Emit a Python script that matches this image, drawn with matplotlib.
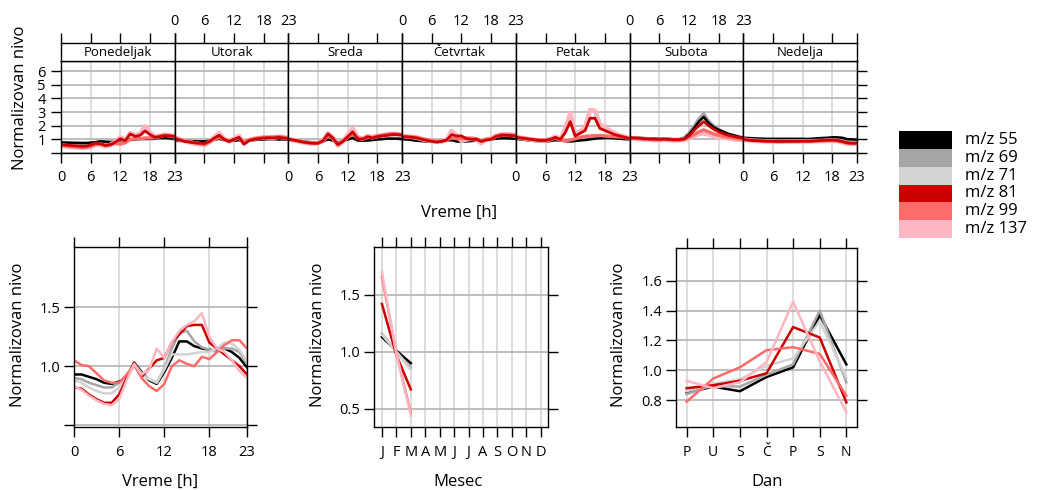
import matplotlib
matplotlib.use("Agg")
import matplotlib.pyplot as plt

plt.rcParams["font.family"] = ["Open Sans", "DejaVu Sans"]
plt.rcParams["axes.linewidth"] = 1.0
plt.rcParams["xtick.major.width"] = 1.0
plt.rcParams["ytick.major.width"] = 1.0

series = ["m/z 55", "m/z 69", "m/z 71", "m/z 81", "m/z 99", "m/z 137"]
colors = ["#000000", "#a6a6a6", "#d3d3d3", "#cc0000", "#ff6a6a", "#ffb6c1"]

days = ["Ponedeljak", "Utorak", "Sreda", "Četvrtak", "Petak", "Subota", "Nedelja"]
hours = list(range(24))

# hourly profile per day of week (one list of 7 days per series)
week_55 = [
    [0.78, 0.77, 0.76, 0.75, 0.74, 0.74, 0.76, 0.80, 0.85, 0.82, 0.80, 0.85, 0.95, 0.95, 1.00, 1.02, 1.05, 1.05, 1.05, 1.08, 1.10, 1.10, 1.08, 1.05],
    [0.95, 0.93, 0.90, 0.88, 0.86, 0.85, 0.85, 0.90, 0.98, 1.05, 0.95, 0.88, 0.90, 0.95, 0.82, 0.90, 0.95, 0.98, 1.00, 1.02, 1.02, 1.00, 1.00, 1.00],
    [0.98, 0.95, 0.90, 0.85, 0.80, 0.78, 0.78, 0.85, 1.00, 0.92, 0.75, 0.85, 1.00, 1.10, 0.92, 0.90, 0.92, 0.95, 1.00, 1.02, 1.05, 1.05, 1.05, 1.02],
    [1.02, 1.00, 0.95, 0.90, 0.88, 0.85, 0.83, 0.82, 0.85, 0.90, 0.95, 0.85, 0.82, 0.85, 0.88, 0.90, 0.90, 0.95, 1.00, 1.05, 1.08, 1.08, 1.06, 1.05],
    [1.05, 1.00, 0.95, 0.92, 0.88, 0.86, 0.85, 0.88, 0.95, 0.90, 0.88, 0.85, 0.88, 0.92, 0.95, 1.00, 1.05, 1.08, 1.10, 1.10, 1.08, 1.05, 1.02, 1.00],
    [1.15, 1.12, 1.10, 1.08, 1.05, 1.05, 1.03, 1.05, 1.02, 1.00, 1.00, 1.05, 1.35, 1.80, 2.30, 2.65, 2.20, 1.90, 1.70, 1.55, 1.40, 1.30, 1.20, 1.12],
    [1.12, 1.10, 1.08, 1.06, 1.05, 1.04, 1.04, 1.04, 1.04, 1.04, 1.04, 1.04, 1.04, 1.03, 1.05, 1.08, 1.10, 1.12, 1.15, 1.15, 1.12, 1.02, 1.00, 0.98],
]
week_69 = [
    [0.70, 0.68, 0.66, 0.65, 0.64, 0.64, 0.68, 0.75, 0.85, 0.82, 0.80, 0.82, 0.90, 0.92, 0.98, 1.00, 1.02, 1.03, 1.03, 1.05, 1.08, 1.08, 1.05, 1.02],
    [0.92, 0.90, 0.88, 0.86, 0.84, 0.83, 0.84, 0.90, 1.00, 1.08, 0.95, 0.88, 0.92, 1.00, 0.85, 0.92, 0.98, 1.00, 1.02, 1.05, 1.05, 1.02, 1.02, 1.00],
    [0.95, 0.92, 0.88, 0.82, 0.78, 0.76, 0.76, 0.85, 1.05, 0.95, 0.75, 0.88, 1.05, 1.20, 0.98, 0.92, 0.95, 1.00, 1.02, 1.05, 1.08, 1.08, 1.06, 1.04],
    [1.05, 1.02, 0.98, 0.92, 0.90, 0.87, 0.85, 0.85, 0.88, 0.92, 1.00, 0.90, 0.86, 0.90, 0.92, 0.92, 0.92, 0.98, 1.02, 1.08, 1.10, 1.10, 1.08, 1.06],
    [1.08, 1.02, 0.98, 0.95, 0.90, 0.88, 0.88, 0.92, 1.02, 0.95, 0.90, 0.88, 0.92, 1.00, 1.05, 1.10, 1.15, 1.18, 1.18, 1.15, 1.12, 1.10, 1.06, 1.02],
    [1.15, 1.12, 1.10, 1.08, 1.05, 1.05, 1.03, 1.05, 1.02, 1.00, 1.00, 1.10, 1.45, 1.95, 2.50, 2.90, 2.35, 2.00, 1.75, 1.55, 1.40, 1.30, 1.20, 1.12],
    [1.08, 1.05, 1.02, 1.00, 0.98, 0.97, 0.96, 0.96, 0.96, 0.96, 0.97, 0.97, 0.97, 0.97, 0.98, 1.00, 1.02, 1.04, 1.06, 1.05, 1.02, 0.95, 0.92, 0.90],
]
week_71 = [
    [0.68, 0.66, 0.64, 0.63, 0.62, 0.62, 0.66, 0.72, 0.82, 0.80, 0.78, 0.82, 0.90, 0.92, 0.98, 1.00, 1.02, 1.05, 1.05, 1.08, 1.10, 1.12, 1.10, 1.05],
    [0.92, 0.90, 0.88, 0.86, 0.84, 0.83, 0.85, 0.92, 1.02, 1.10, 0.98, 0.90, 0.95, 1.02, 0.88, 0.95, 1.00, 1.02, 1.05, 1.08, 1.08, 1.05, 1.05, 1.02],
    [0.95, 0.92, 0.88, 0.83, 0.78, 0.76, 0.77, 0.86, 1.08, 0.98, 0.78, 0.90, 1.08, 1.25, 1.00, 0.95, 0.98, 1.02, 1.05, 1.08, 1.10, 1.10, 1.08, 1.05],
    [1.08, 1.05, 1.00, 0.95, 0.92, 0.90, 0.88, 0.88, 0.90, 0.95, 1.05, 0.95, 0.90, 0.92, 0.95, 0.95, 0.95, 1.00, 1.05, 1.10, 1.15, 1.12, 1.10, 1.08],
    [1.10, 1.05, 1.00, 0.96, 0.92, 0.90, 0.90, 0.94, 1.05, 0.98, 0.92, 0.90, 0.95, 1.05, 1.10, 1.15, 1.20, 1.22, 1.20, 1.18, 1.15, 1.12, 1.08, 1.05],
    [1.12, 1.10, 1.08, 1.05, 1.03, 1.02, 1.00, 1.02, 1.00, 0.98, 1.00, 1.08, 1.40, 1.85, 2.35, 2.70, 2.20, 1.90, 1.65, 1.50, 1.35, 1.25, 1.18, 1.10],
    [1.05, 1.02, 1.00, 0.98, 0.96, 0.95, 0.94, 0.94, 0.94, 0.94, 0.95, 0.95, 0.95, 0.95, 0.96, 0.98, 1.00, 1.02, 1.04, 1.03, 1.00, 0.93, 0.90, 0.88],
]
week_81 = [
    [0.62, 0.58, 0.55, 0.52, 0.50, 0.50, 0.58, 0.72, 0.68, 0.55, 0.62, 0.80, 1.05, 0.90, 1.40, 1.22, 1.30, 1.62, 1.35, 1.15, 1.20, 1.28, 1.25, 1.20],
    [1.05, 0.95, 0.85, 0.80, 0.75, 0.72, 0.70, 0.85, 1.10, 1.30, 1.00, 0.85, 1.00, 1.15, 0.65, 0.90, 1.00, 1.05, 1.10, 1.12, 1.10, 1.15, 1.10, 1.05],
    [1.00, 0.95, 0.88, 0.80, 0.75, 0.72, 0.72, 0.90, 1.40, 1.10, 0.60, 0.85, 1.20, 1.55, 1.05, 1.00, 1.20, 1.10, 1.20, 1.25, 1.30, 1.35, 1.35, 1.30],
    [1.20, 1.18, 1.15, 1.10, 1.00, 0.92, 0.85, 0.80, 0.85, 0.95, 1.35, 1.25, 1.25, 1.05, 1.00, 1.00, 0.85, 0.95, 1.00, 1.20, 1.30, 1.30, 1.28, 1.25],
    [1.15, 1.10, 1.05, 1.00, 0.95, 0.92, 0.92, 1.00, 1.15, 1.00, 1.50, 2.30, 1.25, 1.45, 1.65, 2.55, 2.55, 1.80, 1.65, 1.50, 1.35, 1.25, 1.15, 1.05],
    [1.12, 1.10, 1.08, 1.05, 1.03, 1.02, 1.00, 1.02, 1.00, 0.98, 0.98, 1.02, 1.25, 1.65, 2.00, 2.30, 2.00, 1.75, 1.55, 1.42, 1.30, 1.22, 1.15, 1.08],
    [1.00, 0.95, 0.92, 0.90, 0.88, 0.87, 0.86, 0.85, 0.85, 0.86, 0.86, 0.86, 0.87, 0.87, 0.88, 0.90, 0.92, 0.94, 0.95, 0.92, 0.85, 0.75, 0.72, 0.72],
]
week_99 = [
    [0.55, 0.52, 0.48, 0.45, 0.42, 0.42, 0.48, 0.62, 0.65, 0.55, 0.60, 0.70, 0.65, 0.75, 1.00, 1.05, 1.05, 1.10, 1.10, 1.15, 1.25, 1.30, 1.28, 1.25],
    [1.10, 1.00, 0.90, 0.82, 0.75, 0.70, 0.62, 0.80, 1.00, 1.15, 1.00, 0.85, 1.00, 1.10, 0.80, 0.95, 1.05, 1.10, 1.15, 1.15, 1.18, 1.20, 1.15, 1.10],
    [1.02, 0.96, 0.88, 0.80, 0.74, 0.71, 0.72, 0.88, 1.25, 1.05, 0.65, 0.85, 1.15, 1.40, 1.10, 1.05, 1.15, 1.15, 1.25, 1.30, 1.38, 1.42, 1.40, 1.35],
    [1.22, 1.20, 1.18, 1.15, 1.05, 0.98, 0.90, 0.85, 0.88, 0.95, 1.10, 1.05, 1.05, 1.10, 1.08, 1.05, 0.88, 1.00, 1.05, 1.25, 1.35, 1.35, 1.32, 1.30],
    [1.18, 1.12, 1.08, 1.02, 0.98, 0.95, 0.95, 1.00, 1.10, 0.95, 0.90, 0.95, 1.05, 1.15, 1.22, 1.25, 1.28, 1.28, 1.25, 1.22, 1.20, 1.18, 1.15, 1.08],
    [1.10, 1.08, 1.05, 1.02, 1.00, 0.98, 0.97, 1.00, 0.97, 0.95, 0.95, 1.00, 1.15, 1.35, 1.55, 1.70, 1.55, 1.40, 1.30, 1.22, 1.15, 1.10, 1.05, 1.00],
    [1.00, 0.95, 0.92, 0.90, 0.88, 0.86, 0.85, 0.84, 0.84, 0.85, 0.85, 0.85, 0.86, 0.86, 0.87, 0.88, 0.90, 0.92, 0.92, 0.90, 0.82, 0.72, 0.70, 0.70],
]
week_137 = [
    [0.55, 0.50, 0.45, 0.42, 0.40, 0.40, 0.48, 0.65, 0.62, 0.48, 0.60, 0.85, 1.15, 0.95, 1.45, 1.30, 1.40, 1.95, 1.50, 1.20, 1.25, 1.35, 1.30, 1.22],
    [1.15, 1.00, 0.88, 0.78, 0.70, 0.65, 0.60, 0.80, 1.15, 1.45, 1.05, 0.85, 1.05, 1.25, 0.70, 0.95, 1.05, 1.10, 1.15, 1.15, 1.12, 1.20, 1.15, 1.10],
    [1.00, 0.95, 0.85, 0.78, 0.72, 0.70, 0.72, 0.92, 1.45, 1.15, 0.55, 0.85, 1.30, 1.80, 1.15, 1.05, 1.25, 1.15, 1.25, 1.30, 1.35, 1.40, 1.38, 1.32],
    [1.25, 1.22, 1.18, 1.12, 1.02, 0.95, 0.88, 0.82, 0.85, 0.95, 1.60, 1.30, 0.90, 1.00, 1.05, 1.00, 0.72, 1.00, 1.05, 1.25, 1.35, 1.38, 1.35, 1.30],
    [1.20, 1.12, 1.05, 1.00, 0.95, 0.92, 0.92, 1.02, 1.20, 1.00, 1.80, 2.90, 1.35, 1.60, 1.85, 3.15, 3.10, 2.10, 1.85, 1.65, 1.45, 1.30, 1.20, 1.08],
    [1.08, 1.05, 1.02, 1.00, 0.98, 0.95, 0.95, 0.97, 0.95, 0.92, 0.92, 0.97, 1.08, 1.25, 1.40, 1.45, 1.35, 1.25, 1.18, 1.12, 1.08, 1.02, 0.98, 0.95],
    [0.98, 0.93, 0.90, 0.88, 0.86, 0.85, 0.84, 0.83, 0.83, 0.84, 0.84, 0.84, 0.85, 0.85, 0.86, 0.87, 0.88, 0.90, 0.90, 0.88, 0.80, 0.70, 0.68, 0.68],
]
weekly = [week_55, week_69, week_71, week_81, week_99, week_137]

# mean diurnal profile
hour_55 = [0.93, 0.93, 0.91, 0.89, 0.86, 0.85, 0.87, 0.90, 1.03, 0.95, 0.88, 0.85, 0.95, 1.07, 1.21, 1.21, 1.17, 1.15, 1.14, 1.13, 1.15, 1.12, 1.07, 0.99]
hour_69 = [0.90, 0.89, 0.86, 0.84, 0.82, 0.82, 0.86, 0.90, 1.02, 0.94, 0.89, 0.86, 0.98, 1.15, 1.28, 1.30, 1.21, 1.16, 1.14, 1.12, 1.15, 1.15, 1.12, 1.02]
hour_71 = [0.88, 0.86, 0.82, 0.79, 0.77, 0.77, 0.82, 0.90, 1.00, 0.93, 0.89, 0.86, 0.97, 1.10, 1.10, 1.10, 1.11, 1.12, 1.12, 1.15, 1.20, 1.19, 1.14, 1.04]
hour_81 = [0.82, 0.81, 0.76, 0.72, 0.69, 0.69, 0.76, 0.90, 1.03, 0.91, 0.98, 1.05, 1.07, 1.20, 1.27, 1.34, 1.35, 1.35, 1.20, 1.15, 1.10, 1.05, 1.00, 0.93]
hour_99 = [1.05, 1.01, 1.00, 0.94, 0.88, 0.86, 0.86, 0.93, 1.01, 0.90, 0.83, 0.79, 0.85, 1.00, 1.05, 1.02, 1.00, 1.08, 1.06, 1.12, 1.18, 1.22, 1.22, 1.15]
hour_137 = [0.83, 0.80, 0.75, 0.71, 0.68, 0.67, 0.72, 0.88, 1.02, 0.93, 0.97, 1.15, 1.07, 1.20, 1.30, 1.35, 1.38, 1.45, 1.25, 1.15, 1.12, 1.05, 0.96, 0.90]
hourly = [hour_55, hour_69, hour_71, hour_81, hour_99, hour_137]

# monthly profile (only Jan - Mar measured)
months = ["J", "F", "M", "A", "M", "J", "J", "A", "S", "O", "N", "D"]
month_idx = [1, 2, 3]
month_55 = [1.13, 1.01, 0.90]
month_69 = [1.16, 1.00, 0.86]
month_71 = [1.15, 1.00, 0.84]
month_81 = [1.42, 0.97, 0.67]
month_99 = [1.66, 0.99, 0.46]
month_137 = [1.70, 0.98, 0.44]
monthly = [month_55, month_69, month_71, month_81, month_99, month_137]

# day of week profile
day_short = ["P", "U", "S", "Č", "P", "S", "N"]
dow_55 = [0.85, 0.89, 0.86, 0.955, 1.02, 1.37, 1.04]
dow_69 = [0.84, 0.90, 0.89, 0.97, 1.04, 1.40, 0.92]
dow_71 = [0.86, 0.91, 0.94, 1.03, 1.08, 1.33, 0.95]
dow_81 = [0.88, 0.90, 0.93, 0.98, 1.29, 1.22, 0.785]
dow_99 = [0.79, 0.945, 1.02, 1.135, 1.155, 1.11, 0.83]
dow_137 = [0.93, 0.88, 0.92, 1.055, 1.46, 1.06, 0.72]
daily = [dow_55, dow_69, dow_71, dow_81, dow_99, dow_137]

W, H = 1037, 490
fig = plt.figure(figsize=(W / 100, H / 100), dpi=100)

VGRID = "#dddddd"
HGRID = "#b3b3b3"
TICK_FS = 10.5
LAB_FS = 12
# top panel: greys first (black over them), then the wide pink band, red on top
top_order = [2, 1, 0, 5, 4, 3]
top_lw = [1.8, 2.2, 2.8, 2.0, 2.4, 3.4]


def px_axes(x0, y0, x1, y1):
    return fig.add_axes([x0 / W, 1 - y1 / H, (x1 - x0) / W, (y1 - y0) / H])


def style_grid(ax):
    ax.set_axisbelow(True)
    ax.xaxis.grid(True, color=VGRID, lw=1.4)
    ax.yaxis.grid(True, color=HGRID, lw=1.2)


# ---- top: hour x weekday panels ----
left, right = 61, 857
pw = (right - left) / 7.0
for i, day in enumerate(days):
    x0 = left + i * pw
    ax = px_axes(x0, 61, x0 + pw, 153)
    for s in top_order:
        ax.plot(hours, weekly[s][i], color=colors[s], lw=top_lw[s],
                solid_joinstyle="round", solid_capstyle="butt")
    ax.set_xlim(0, 23)
    ax.set_ylim(0, 6.75)
    ax.set_xticks([0, 6, 12, 18, 23])
    ax.set_yticks(range(7))
    ax.set_yticklabels([""] + [str(v) for v in range(1, 7)])
    style_grid(ax)
    ax.tick_params(axis="x", direction="out", length=7, top=False, bottom=True,
                   labelbottom=(i % 2 == 0), labelsize=TICK_FS, pad=5)
    ax.tick_params(axis="y", direction="out", length=7, left=(i == 0),
                   right=(i == 6), labelleft=(i == 0), labelright=False,
                   labelsize=TICK_FS, pad=4)

    sax = px_axes(x0, 43, x0 + pw, 61)
    sax.set_xlim(0, 23)
    sax.set_ylim(0, 1)
    sax.set_xticks([0, 6, 12, 18, 23])
    sax.set_yticks([])
    sax.tick_params(axis="x", direction="out", length=7, top=True, bottom=False,
                    labeltop=(i % 2 == 1), labelbottom=False,
                    labelsize=TICK_FS, pad=3)
    sax.text(11.5, 0.45, day, ha="center", va="center", fontsize=9.5)

fig.text(20 / W, 1 - 98 / H, "Normalizovan nivo", rotation=90,
         ha="center", va="center", fontsize=LAB_FS)
fig.text(459 / W, 1 - 213 / H, "Vreme [h]", ha="center", va="center",
         fontsize=LAB_FS)


def bottom_panel(ax):
    style_grid(ax)
    ax.tick_params(direction="out", length=7, top=True, bottom=True,
                   left=True, right=True, labeltop=False, labelright=False,
                   labelsize=TICK_FS)
    ax.tick_params(axis="x", pad=6)
    ax.tick_params(axis="y", pad=3)


# ---- bottom left: diurnal ----
ax1 = px_axes(74, 247, 247, 427)
for s in range(len(series)):
    ax1.plot(hours, hourly[s], color=colors[s], lw=1.8)
ax1.set_xlim(0, 23)
ax1.set_ylim(0.485, 2.01)
ax1.set_xticks([0, 6, 12, 18, 23])
ax1.set_yticks([0.5, 1.0, 1.5])
ax1.set_yticklabels(["", "1.0", "1.5"])
bottom_panel(ax1)
fig.text(18 / W, 1 - 335 / H, "Normalizovan nivo", rotation=90,
         ha="center", va="center", fontsize=LAB_FS)
fig.text(160 / W, 1 - 482 / H, "Vreme [h]", ha="center", va="center",
         fontsize=LAB_FS)

# ---- bottom middle: month ----
ax2 = px_axes(374, 247, 548, 427)
for s in range(len(series)):
    ax2.plot(month_idx, monthly[s], color=colors[s], lw=1.8)
ax2.set_xlim(0.45, 12.5)
ax2.set_ylim(0.34, 1.92)
ax2.set_xticks(range(1, 13))
ax2.set_xticklabels(months)
ax2.set_yticks([0.5, 1.0, 1.5])
ax2.set_yticklabels(["0.5", "1.0", "1.5"])
bottom_panel(ax2)
fig.text(318 / W, 1 - 335 / H, "Normalizovan nivo", rotation=90,
         ha="center", va="center", fontsize=LAB_FS)
fig.text(458 / W, 1 - 482 / H, "Mesec", ha="center", va="center",
         fontsize=LAB_FS)

# ---- bottom right: day of week ----
ax3 = px_axes(676, 248, 857, 427)
for s in range(len(series)):
    ax3.plot(range(7), daily[s], color=colors[s], lw=1.8)
ax3.set_xlim(-0.4, 6.4)
ax3.set_ylim(0.62, 1.82)
ax3.set_xticks(range(7))
ax3.set_xticklabels(day_short)
ax3.set_yticks([0.8, 1.0, 1.2, 1.4, 1.6])
ax3.set_yticklabels(["0.8", "1.0", "1.2", "1.4", "1.6"])
bottom_panel(ax3)
ax3.tick_params(axis="x", labelsize=10)
fig.text(619 / W, 1 - 335 / H, "Normalizovan nivo", rotation=90,
         ha="center", va="center", fontsize=LAB_FS)
fig.text(767 / W, 1 - 482 / H, "Dan", ha="center", va="center",
         fontsize=LAB_FS)

# ---- legend ----
lax = px_axes(899, 131, 952, 238)
lax.barh(range(len(series)), [1] * len(series), height=1.0, left=0,
         color=colors)
lax.set_xlim(0, 1)
lax.set_ylim(len(series) - 0.5, -0.5)
lax.axis("off")
for s, name in enumerate(series):
    lax.text(1.25, s, name, va="center", ha="left", fontsize=12,
             clip_on=False)

fig.savefig("out.png", dpi=100)
